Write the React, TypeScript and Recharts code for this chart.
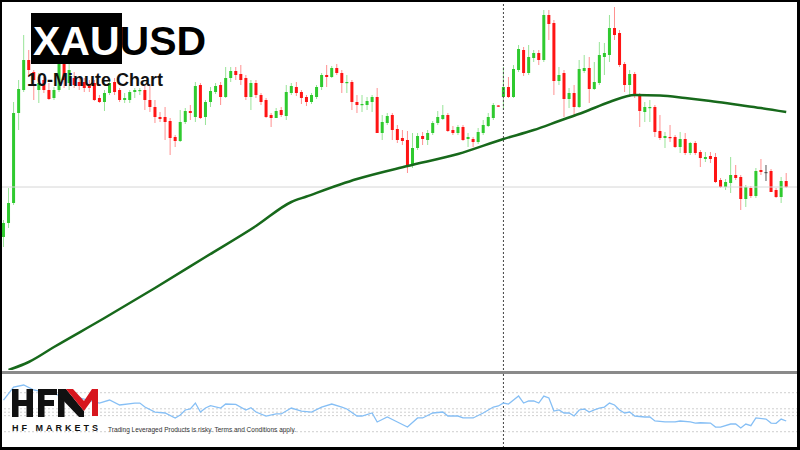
import React from 'react';
import { ComposedChart, LineChart, Bar, Line, XAxis, YAxis, ReferenceLine } from 'recharts';

const openPrices = [
  2376.3, 2377.7, 2379.7, 2388.7, 2391, 2394, 2392.8, 2391, 2392, 2391,
  2390.2, 2391, 2393.7, 2391.7, 2392.2, 2391.8, 2391.8, 2391.6, 2391.7, 2390.2,
  2389.8, 2390.7, 2391.8, 2391, 2390, 2390, 2390.8, 2390.9, 2391, 2390,
  2389.3, 2388.3, 2388.3, 2387.9, 2386.3, 2385.9, 2387.8, 2388.9, 2388.3, 2391.5,
  2388.3, 2389.8, 2390.8, 2391.5, 2390.3, 2392.2, 2392.9, 2392.6, 2392.2, 2390.3,
  2391.7, 2390.5, 2390, 2388.5, 2388.2, 2389, 2388.4, 2390.7, 2391.3, 2390.8,
  2390.3, 2389.8, 2390.3, 2391.3, 2392.5, 2392.3, 2393.2, 2392.7, 2391.7, 2391.8,
  2389.8, 2389.5, 2389.5, 2389.8, 2390.3, 2386.7, 2387.7, 2388.5, 2387.1, 2386.2,
  2386, 2383.5, 2385.2, 2386.4, 2386, 2386.7, 2387.7, 2388.1, 2388.5, 2387,
  2386.7, 2387.3, 2386.1, 2386.1, 2385.8, 2386.7, 2387.4, 2388.2, 2389.45, 2390.3,
  2391.3, 2390.3, 2393, 2395, 2392.7, 2394.2, 2394.7, 2394, 2398.5, 2397.7,
  2391.9, 2392.7, 2390.1, 2390.7, 2389.3, 2392.9, 2393.2, 2391.1, 2391.7, 2394.3,
  2394.5, 2397.2, 2396.7, 2393.6, 2391.5, 2392.6, 2390.5, 2388.8, 2389.2, 2389.3,
  2386.9, 2386.2, 2386.3, 2386.3, 2385.3, 2386.1, 2384.7, 2385.7, 2384.8, 2384.1,
  2384.4, 2384.3, 2382, 2381.3, 2381.7, 2382.5, 2382.3, 2380.1, 2381.2, 2380.4,
  2383, 2382.8, 2382.9, 2381, 2380.3, 2381.9,
];

const closePrices = [
  2377.7, 2379.7, 2388.7, 2391.1, 2394, 2393, 2392, 2391.7, 2391, 2390.1,
  2391, 2393.7, 2392, 2393, 2391.5, 2391.4, 2391.2, 2391.2, 2390, 2389.8,
  2390.7, 2391.7, 2390.8, 2390, 2390.2, 2390.8, 2391, 2391, 2390, 2389.3,
  2388.3, 2388.1, 2387.8, 2386.2, 2385.9, 2387.8, 2388.9, 2388.7, 2391.4, 2388.2,
  2389.8, 2390.9, 2391.4, 2390.3, 2392.2, 2392.9, 2392.5, 2392, 2390.3, 2391.7,
  2390.5, 2389.8, 2388.3, 2388.2, 2388.9, 2388.5, 2390.8, 2391.4, 2390.7, 2390.2,
  2389.8, 2390.5, 2391.3, 2392.5, 2392.3, 2393.2, 2392.7, 2391.7, 2391.8, 2389.8,
  2389.5, 2389.6, 2389.9, 2390.3, 2386.7, 2387.8, 2388.4, 2387, 2386, 2385.9,
  2383.5, 2385.2, 2386.4, 2386.1, 2386.7, 2387.7, 2388.3, 2388.5, 2386.9, 2386.7,
  2387.3, 2386, 2386.3, 2385.8, 2386.8, 2387.5, 2388.3, 2389.5, 2389.35, 2391.3,
  2390.3, 2393.1, 2395.1, 2392.7, 2394.3, 2394.7, 2394, 2398.5, 2397.6, 2391.9,
  2392.5, 2390.1, 2390.7, 2389.3, 2393.1, 2393.2, 2391.1, 2391.8, 2394.5, 2394.7,
  2397.2, 2396.5, 2393.5, 2391.5, 2392.6, 2390.5, 2388.9, 2389.3, 2389.3, 2386.8,
  2386.2, 2386.4, 2386.2, 2385.3, 2386.1, 2384.7, 2385.7, 2384.7, 2384.2, 2384.3,
  2384.1, 2381.8, 2381.3, 2381.8, 2382.5, 2382.2, 2380.1, 2381.3, 2380.4, 2382.9,
  2382.8, 2382.8, 2380.8, 2380.3, 2381.9, 2381.3,
];

const highPrices = [
  2378, 2381.2, 2389.8, 2392, 2396.5, 2395, 2393, 2392.7, 2392.3, 2391.7,
  2391.3, 2394.5, 2394, 2393.7, 2392.8, 2392.2, 2392.2, 2392, 2392, 2390.5,
  2391, 2392, 2392.2, 2391.2, 2390.7, 2391, 2391.2, 2391.2, 2391.5, 2391.5,
  2390, 2388.8, 2389.3, 2388.2, 2386.5, 2389, 2389.2, 2389.5, 2391.8, 2391.7,
  2390, 2391.3, 2391.7, 2391.8, 2393.3, 2393.3, 2393.3, 2393.5, 2392.5, 2392,
  2392, 2390.7, 2390.2, 2388.7, 2389.2, 2389.3, 2391.5, 2391.7, 2391.8, 2391,
  2390.5, 2390.7, 2391.5, 2392.7, 2393.5, 2393.4, 2393.6, 2393, 2392.5, 2392,
  2390.5, 2390.5, 2390.3, 2390.5, 2391.2, 2388.5, 2388.7, 2388.7, 2387.5, 2387,
  2386.9, 2386.7, 2386.7, 2386.8, 2387, 2387.9, 2388.9, 2389.5, 2388.7, 2387.4,
  2387.5, 2387.5, 2386.7, 2386.3, 2387.2, 2388, 2388.7, 2389.7, 2389.5, 2393.3,
  2392.3, 2393.5, 2395.5, 2395.3, 2395.5, 2395, 2395, 2399, 2399, 2398,
  2393.3, 2393, 2391.2, 2391.5, 2394, 2394.5, 2394.3, 2393.8, 2395.8, 2395.7,
  2398.5, 2399.3, 2397, 2393.8, 2393, 2392.8, 2390.7, 2389.8, 2390, 2389.5,
  2388.5, 2386.8, 2387.5, 2386.5, 2386.8, 2386.7, 2385.8, 2385.9, 2385, 2384.8,
  2384.8, 2384.7, 2382.2, 2382.1, 2384.3, 2383.5, 2382.5, 2381.5, 2381.4, 2383.2,
  2384.1, 2383.5, 2383.1, 2381.2, 2382.3, 2382.7,
];

const lowPrices = [
  2375.3, 2377.2, 2379.5, 2387, 2390.8, 2392.3, 2390, 2389.7, 2390.7, 2390,
  2390, 2390.8, 2391.2, 2391, 2391.2, 2391, 2390.8, 2390.8, 2389.9, 2389.7,
  2388.9, 2390.5, 2390.5, 2389.8, 2389.7, 2389.7, 2390.2, 2390.5, 2389, 2388.8,
  2387.7, 2387.8, 2386, 2384.5, 2385.3, 2385.8, 2387.6, 2388, 2387.8, 2388.1,
  2387.5, 2389.3, 2390.6, 2389.5, 2390.2, 2391.8, 2392, 2391.5, 2390, 2389,
  2390.2, 2389.5, 2388.2, 2387.3, 2388.2, 2388.3, 2388, 2390.5, 2390.4, 2389.6,
  2389.4, 2389.6, 2390.1, 2391, 2391.3, 2392.2, 2392.5, 2390.7, 2390.7, 2389,
  2388.7, 2388.8, 2389, 2388.8, 2386.7, 2386, 2387.5, 2386, 2385.7, 2385.5,
  2382.7, 2383.2, 2385, 2385.5, 2385.5, 2386.5, 2387.5, 2388, 2386.8, 2386.5,
  2386.5, 2385.9, 2385.3, 2385.3, 2385.6, 2386.5, 2387.3, 2388, 2389.3, 2389,
  2390.2, 2390.2, 2392.8, 2392.4, 2392.5, 2393.8, 2393.5, 2393.8, 2396, 2390.5,
  2391.5, 2388.3, 2389.2, 2388.3, 2389.2, 2392.7, 2389.7, 2391, 2391.5, 2392.5,
  2393.8, 2396, 2393.3, 2390.8, 2390.3, 2390.2, 2387.3, 2387.8, 2387.8, 2386.3,
  2386, 2385.2, 2385.8, 2385.2, 2384.7, 2384.5, 2384.5, 2384.5, 2383.3, 2383.8,
  2383.7, 2381.7, 2381.2, 2381, 2380.7, 2382, 2379, 2379.3, 2380.2, 2380.2,
  2382.5, 2381.9, 2380.8, 2380.2, 2379.7, 2381.2,
];

const maIndex = [1, 5, 10, 20, 30, 40, 50, 57, 60, 70, 80, 90, 99, 105, 110, 115, 120, 125, 130, 135, 140, 145, 150, 155];
const maValues = [2363.0, 2363.8, 2365.3, 2368.2, 2371.2, 2374.3, 2377.4, 2379.8, 2380.35, 2382.1, 2383.4, 2384.6, 2386.1, 2387.0, 2387.9, 2388.8, 2389.8, 2390.5, 2390.45, 2390.2, 2389.9, 2389.55, 2389.2, 2388.8];

const rsiIndex = [
  0, 2, 4, 6, 8, 11, 15, 19, 21, 23, 26, 27, 28, 30, 32, 34, 35, 36, 37, 38,
  39, 40, 41, 43, 44, 46, 48, 49, 50, 52, 54, 55, 57, 59, 61, 63, 65, 67, 68, 70,
  71, 73, 74, 76, 78, 80, 82, 83, 85, 87, 88, 90, 91, 93, 95, 97, 98, 99, 100, 102,
  103, 104, 105, 106, 107, 108, 109, 110, 111, 112, 113, 114, 115, 116, 117, 118, 119, 120, 121, 122,
  123, 124, 125, 127, 128, 129, 131, 133, 134, 136, 137, 138, 140, 141, 142, 144, 145, 146, 147, 148,
  149, 151, 152, 153, 154, 155,
];
const rsiValues = [
  62.5, 75.8, 77.9, 72.8, 70.7, 67.6, 64.6, 59.4, 62.5, 57.4, 59.4, 59.4, 55.3, 50.2, 49.2, 44.1, 47.1, 52.3, 53.3, 59.4,
  50.2, 54.3, 56.7, 54.3, 58.4, 58.1, 52.3, 54.6, 50.2, 46.1, 48.2, 48.2, 54.3, 51.2, 50.2, 55.3, 58.4, 55.3, 53.3, 46.1,
  46.1, 49.2, 40.0, 45.1, 40.0, 34.8, 44.1, 44.1, 49.2, 50.2, 46.1, 46.1, 44.1, 44.1, 49.2, 55.3, 56.4, 59.4, 58.4, 66.6,
  59.4, 61.5, 61.5, 59.4, 66.6, 64.6, 51.2, 52.3, 49.2, 49.2, 46.1, 52.3, 53.3, 50.2, 52.3, 54.3, 55.3, 59.4, 57.4, 52.3,
  49.2, 50.2, 46.1, 45.1, 45.1, 41.0, 40.0, 40.0, 41.0, 40.0, 38.9, 39.2, 38.9, 34.8, 34.8, 37.9, 37.9, 33.8, 37.9, 36.2,
  44.1, 43.0, 38.9, 38.6, 43.0, 41.0,
];

const rsiLevels = [70, 53.5, 50, 46.5, 30];
const markerIndex = 99;
const guidePrice = 2381.3;
const priceDomain: [number, number] = [2363, 2400];
const rsiDomain: [number, number] = [13.3, 89.2];
const indexDomain: [number, number] = [-0.693, 157.73];

const candleData = openPrices.map((o, i) => {
  const k = maIndex.indexOf(i);
  return {
    i,
    open: o,
    high: highPrices[i],
    low: lowPrices[i],
    close: closePrices[i],
    range: [lowPrices[i], highPrices[i]],
    ma: k >= 0 ? maValues[k] : null,
  };
});

const rsiData = rsiIndex.map((x, k) => ({ i: x, rsi: rsiValues[k] }));

const Candle = (props: any) => {
  const { x, y, width, height, payload } = props;
  if (!payload || x == null || y == null) return null;
  const { open, close, high, low } = payload;
  const top = Math.min(y, y + height);
  const h = Math.abs(height);
  const span = high - low;
  const ratio = span > 0 ? h / span : 0;
  const toY = (v: number) => top + (high - v) * ratio;
  const cx = x + width / 2;
  const flat = close === open;
  const up = close > open;
  const body = flat ? '#555555' : up ? '#2fca2f' : '#ff1414';
  const wick = flat ? '#555555' : up ? '#98e498' : '#ff9090';
  const bTop = toY(Math.max(open, close));
  const bBot = toY(Math.min(open, close));
  return (
    <g>
      <line x1={cx} x2={cx} y1={top} y2={top + h} stroke={wick} strokeWidth={1} />
      <rect x={cx - 1.5} y={bTop} width={3} height={Math.max(bBot - bTop, 1.2)} fill={body} />
    </g>
  );
};

export default function App() {
  return (
    <div
      style={{
        position: 'fixed',
        left: 0,
        top: 0,
        width: 800,
        height: 450,
        background: '#ffffff',
        overflow: 'hidden',
      }}
    >
      <div style={{ position: 'absolute', left: 0, top: 0 }}>
        <ComposedChart width={800} height={370} data={candleData} margin={{ top: 0, right: 0, bottom: 0, left: 0 }}>
          <XAxis dataKey="i" type="number" domain={indexDomain} hide allowDataOverflow />
          <YAxis domain={priceDomain} hide allowDataOverflow />
          <ReferenceLine y={guidePrice} stroke="#d6d6d6" strokeWidth={1} />
          <ReferenceLine x={markerIndex} stroke="#444444" strokeDasharray="2 2" strokeWidth={1} />
          <Bar dataKey="range" barSize={3} shape={(p: any) => <Candle {...p} />} isAnimationActive={false} />
          <Line
            dataKey="ma"
            type="monotone"
            connectNulls
            dot={false}
            stroke="#17691b"
            strokeWidth={2.5}
            isAnimationActive={false}
          />
        </ComposedChart>
      </div>
      <div style={{ position: 'absolute', left: 0, top: 371, width: 800, height: 3, background: '#8a8a8a' }} />
      <div style={{ position: 'absolute', left: 0, top: 374 }}>
        <LineChart width={800} height={74} data={rsiData} margin={{ top: 0, right: 0, bottom: 0, left: 0 }}>
          <XAxis dataKey="i" type="number" domain={indexDomain} hide allowDataOverflow />
          <YAxis domain={rsiDomain} hide allowDataOverflow />
          {rsiLevels.map((lv) => (
            <ReferenceLine key={lv} y={lv} stroke="#cfcfcf" strokeDasharray="2 2" strokeWidth={1} />
          ))}
          <ReferenceLine x={markerIndex} stroke="#444444" strokeDasharray="2 2" strokeWidth={1} />
          <Line dataKey="rsi" type="linear" dot={false} stroke="#86bff5" strokeWidth={1.3} isAnimationActive={false} />
        </LineChart>
      </div>
      <svg
        width={800}
        height={450}
        style={{ position: 'absolute', left: 0, top: 0, pointerEvents: 'none' }}
      >
        <rect x={31} y={13} width={91} height={51} fill="#000000" />
        <text x={33} y={55} fontFamily="'Liberation Sans', Arial, sans-serif" fontWeight={700} fontSize={41}>
          <tspan fill="#ffffff">XAU</tspan>
          <tspan fill="#000000">USD</tspan>
        </text>
        <text x={27} y={86} fontFamily="'Liberation Sans', Arial, sans-serif" fontWeight={700} fontSize={18} fill="#111111">
          10-Minute Chart
        </text>
        <g>
          <rect x={12} y={389} width={6.5} height={28} fill="#111111" />
          <rect x={26.5} y={389} width={6.5} height={28} fill="#111111" />
          <rect x={12} y={400} width={21} height={6} fill="#111111" />
          <rect x={38} y={389} width={6.5} height={28} fill="#111111" />
          <rect x={38} y={389} width={19} height={6} fill="#111111" />
          <rect x={38} y={400} width={16} height={6} fill="#111111" />
          <rect x={58} y={389} width={6.5} height={28} fill="#111111" />
          <polygon points="58,389 66,389 84,411 84,417 79,417 58,395" fill="#111111" />
          <polygon points="66,389 73,389 84,401 92,389 98,389 98,416 92,416 92,400 84,411" fill="#d7161e" />
        </g>
        <text
          x={12}
          y={431}
          fontFamily="'Liberation Sans', Arial, sans-serif"
          fontWeight={700}
          fontSize={9}
          fill="#111111"
          textLength={86}
          lengthAdjust="spacing"
        >
          HF MARKETS
        </text>
        <text
          x={108}
          y={431.5}
          fontFamily="'Liberation Sans', Arial, sans-serif"
          fontSize={7}
          fill="#333333"
          textLength={188}
          lengthAdjust="spacingAndGlyphs"
        >
          Trading Leveraged Products is risky. Terms and Conditions apply.
        </text>
      </svg>
      <div
        style={{
          position: 'absolute',
          left: 0,
          top: 0,
          width: 800,
          height: 450,
          boxSizing: 'border-box',
          borderTop: '2px solid #000',
          borderLeft: '2px solid #000',
          borderRight: '3px solid #000',
          borderBottom: '3px solid #000',
          pointerEvents: 'none',
        }}
      />
    </div>
  );
}
